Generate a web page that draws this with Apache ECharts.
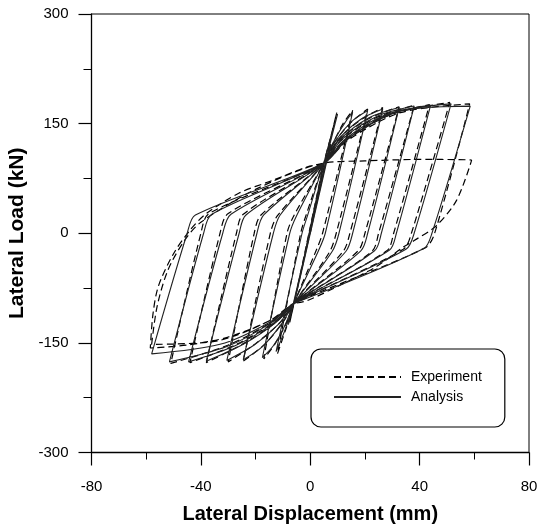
<!DOCTYPE html>
<html>
<head>
<meta charset="utf-8">
<title>Lateral load vs displacement</title>
<script src="https://cdn.jsdelivr.net/npm/echarts@6.0.0/dist/echarts.min.js"></script>
<style>
  html, body { margin: 0; padding: 0; background: #fff; }
  #chart { width: 538px; height: 524px; }
</style>
</head>
<body>
<div id="chart"></div>
<script>
// experiment path (mm / kN), one line per half cycle
var expDisp = [
  0, 3.5, -4, 7, -7.5,
  -4, 5, 7.5, 9.7,
  5, 0, -6, -9, -12,
  -3.5, -1.5, 5, 9, 12, 15.5,
  4.5, 2, -6, -9, -13, -17,
  -8.5, -6, 5, 9, 15, 21,
  9.5, 7, -6, -10, -17, -24.5,
  -14.6, -12, 5, 10, 18, 26.5,
  14.5, 12, -6, -11, -20, -30,
  -20.5, -18, 5, 10, 21, 32.5,
  20, 17.5, -6, -12, -24, -38,
  -27, -24.5, 5, 11, 24, 38,
  25, 22.5, -6, -13, -27, -44,
  -33, -30, 5, 12, 27, 43.6,
  30.5, 28, -6, -14, -30, -51,
  -40, -37, 5, 13, 30, 51,
  37, 34, -6, -14, -30, -45, -58.5,
  -57.5, -55.5, -50, -44, -38, -26, -14, -1, 5, 14, 33, 58.3,
  45.5, 42, -6, -15, -35, -58,
  -56, -52, -46, -40, -20, 5, 20, 40, 59,
  53.5, 46, 38, 34, 24, 12, -1, -6
];
var expLoad = [
  0, 62, -64, 118, -122,
  -62, 96, 132, 165,
  90, 5, -96, -132, -165,
  0, 25, 96, 128, 150, 168,
  0, -25, -96, -125, -152, -172,
  0, 24, 96, 125, 152, 170,
  0, -26, -96, -122, -153, -175,
  0, 24, 96, 127, 154, 172,
  0, -25, -96, -122, -151, -176,
  0, 25, 96, 125, 156, 173,
  0, -24, -96, -120, -150, -177,
  0, 26, 96, 126, 158, 175,
  0, -25, -96, -121, -152, -177,
  0, 27, 96, 126, 160, 176,
  0, -24, -96, -121, -153, -178,
  0, 27, 96, 127, 163, 179,
  0, -22, -96, -118, -142, -153, -157,
  -110, -72, -28, 4, 27, 55, 72, 91, 96, 128, 165, 177,
  0, -20, -96, -120, -148, -152,
  -100, -50, -10, 15, 60, 96, 99, 101, 100,
  45, 10, -10, -19, -46, -69, -92, -96
];

// analysis path (mm / kN)
var anaDisp = [
  0, 4, -4, 7.5, -8,
  -3.5, 5, 8, 10,
  5, 0.5, -6, -9.5, -12.5,
  -3, -1, 5, 9.5, 13, 15.5,
  5.5, 3, -6, -9.5, -13.5, -17.5,
  -7.5, -5, 5, 9.5, 15.5, 21,
  10.5, 8, -6, -10.5, -17.5, -24.5,
  -13.5, -11, 5, 10.5, 18.5, 26.5,
  15.5, 13, -6, -11.5, -20.5, -30.5,
  -19.5, -17, 5, 10.5, 21.5, 32.5,
  21, 18.5, -6, -12.5, -24.5, -38,
  -26, -23.5, 5, 11.5, 24.5, 38,
  26, 23.5, -6, -13.5, -27.5, -44.5,
  -32, -29, 5, 12.5, 27.5, 44,
  31.5, 29, -6, -14.5, -30.5, -51.5,
  -39, -36, 5, 13.5, 30.5, 51.5,
  38, 35, -6, -15, -33, -58,
  -45, -42, 5, 14, 33, 58.5,
  44.5, 41.5, -6
];
var anaLoad = [
  0, 66, -66, 122, -125,
  -55, 96, 138, 163,
  88, 8, -96, -135, -162,
  0, 24, 96, 132, 153, 166,
  0, -24, -96, -128, -154, -170,
  0, 24, 96, 128, 154, 168,
  0, -25, -96, -124, -155, -173,
  0, 25, 96, 129, 156, 170,
  0, -25, -96, -124, -153, -174,
  0, 25, 96, 127, 158, 172,
  0, -24, -96, -122, -152, -175,
  0, 25, 96, 128, 160, 174,
  0, -24, -96, -123, -154, -176,
  0, 26, 96, 128, 162, 175,
  0, -23, -96, -123, -155, -176,
  0, 26, 96, 129, 165, 177,
  0, -22, -96, -122, -152, -165,
  0, 25, 96, 130, 167, 174,
  0, -21, -96
];

var xTicks = [-80, 80, 40];
var yTicks = [-300, 300, 150];

function pairs(xs, ys) {
  return xs.map(function (x, i) { return [x, ys[i]]; });
}

var font = "Liberation Sans, Arial, sans-serif";
var chart = echarts.init(document.getElementById("chart"), null, { renderer: "canvas" });

chart.setOption({
  animation: false,
  backgroundColor: "#fff",
  grid: {
    left: 91.5,
    right: 9,
    top: 14,
    bottom: 71.5,
    outerBoundsMode: "none",
    show: true,
    borderColor: "#000",
    borderWidth: 1
  },
  legend: {
    orient: "vertical",
    left: 311,
    top: 349,
    data: ["Experiment", "Analysis"],
    itemWidth: 67,
    itemHeight: 14,
    itemGap: 6,
    padding: [21, 23, 23, 22],
    backgroundColor: "#fff",
    borderColor: "#000",
    borderWidth: 1.2,
    borderRadius: 10,
    itemStyle: { opacity: 0 },
    textStyle: { fontFamily: font, fontSize: 14, color: "#000", padding: [0, 0, 0, 5] }
  },
  xAxis: {
    type: "value",
    min: xTicks[0],
    max: xTicks[1],
    interval: xTicks[2],
    name: "Lateral Displacement (mm)",
    nameLocation: "middle",
    nameGap: 52,
    nameTextStyle: { fontFamily: font, fontSize: 20, fontWeight: "bold", color: "#000" },
    axisLine: { onZero: false, lineStyle: { color: "#000", width: 1.3 } },
    axisTick: { length: 13, lineStyle: { color: "#000", width: 1.2 } },
    minorTick: { show: true, splitNumber: 2, length: 7, lineStyle: { color: "#000", width: 1 } },
    splitLine: { show: false },
    axisLabel: { fontFamily: font, fontSize: 15, color: "#000", margin: 27 }
  },
  yAxis: {
    type: "value",
    min: yTicks[0],
    max: yTicks[1],
    interval: yTicks[2],
    name: "Lateral Load (kN)",
    nameLocation: "middle",
    nameRotate: 90,
    nameGap: 63,
    nameTextStyle: { fontFamily: font, fontSize: 21, fontWeight: "bold", color: "#000" },
    axisLine: { onZero: false, lineStyle: { color: "#000", width: 1.3 } },
    axisTick: { length: 13, lineStyle: { color: "#000", width: 1.2 } },
    minorTick: { show: true, splitNumber: 2, length: 8, lineStyle: { color: "#000", width: 1 } },
    splitLine: { show: false },
    axisLabel: { fontFamily: font, fontSize: 15, color: "#000", margin: 23 }
  },
  series: [
    {
      name: "Experiment",
      type: "line",
      data: pairs(expDisp, expLoad),
      symbol: "none",
      smooth: 0.3,
      itemStyle: { color: "#000" },
      lineStyle: { color: "#000", width: 1.2, type: [7, 4] }
    },
    {
      name: "Analysis",
      type: "line",
      data: pairs(anaDisp, anaLoad),
      symbol: "none",
      smooth: 0.3,
      itemStyle: { color: "#222" },
      lineStyle: { color: "#222", width: 1.1, type: "solid" }
    }
  ]
});
</script>
</body>
</html>
